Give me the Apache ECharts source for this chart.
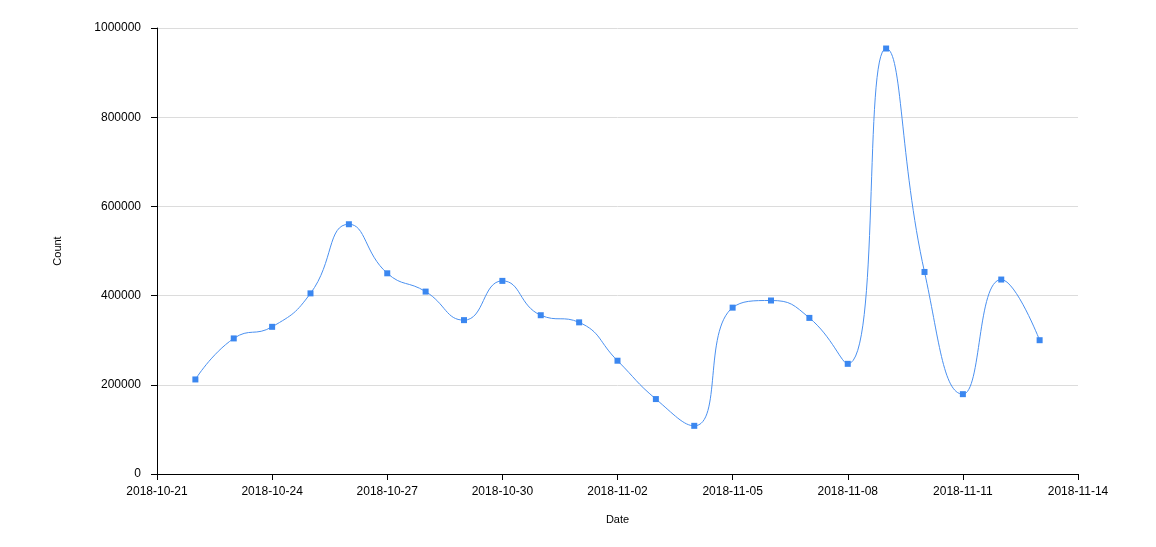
<!DOCTYPE html>
<html>
<head>
<meta charset="utf-8">
<script src="https://cdn.jsdelivr.net/npm/echarts@6/dist/echarts.min.js"></script>
<style>html,body{margin:0;padding:0;background:#fff}#c{width:1156px;height:547px}</style>
</head>
<body>
<div id="c"></div>
<script>
var dates = ['2018-10-22','2018-10-23','2018-10-24','2018-10-25','2018-10-26','2018-10-27','2018-10-28','2018-10-29','2018-10-30','2018-10-31','2018-11-01','2018-11-02','2018-11-03','2018-11-04','2018-11-05','2018-11-06','2018-11-07','2018-11-08','2018-11-09','2018-11-10','2018-11-11','2018-11-12','2018-11-13'];
var counts = [212000,304000,330000,405000,560000,450000,409000,345000,433000,356000,340000,254000,168000,108000,373000,389000,350000,247000,954000,453000,179000,436000,300000];
var xStart = '2018-10-21';
var xEnd = '2018-11-14';
var yTicks = [0,200000,400000,600000,800000,1000000];

var DAY = 86400000;
function toDay(s){ return Math.round((Date.parse(s+'T00:00:00Z') - Date.parse(xStart+'T00:00:00Z'))/DAY); }
function fromDay(d){ return new Date(Date.parse(xStart+'T00:00:00Z') + d*DAY).toISOString().slice(0,10); }
var data = dates.map(function(d,i){ return [toDay(d), counts[i]]; });

var font = 'Arial, "Liberation Sans", sans-serif';
var chart = echarts.init(document.getElementById('c'));
chart.setOption({
  animation:false,
  grid:{left:157,right:78,top:28,bottom:73,containLabel:false},
  xAxis:{
    type:'value', min:0, max:toDay(xEnd), interval:3,
    name:'Date', nameLocation:'middle', nameGap:40,
    nameTextStyle:{color:'#000',fontSize:11,fontFamily:font},
    axisLine:{show:true,lineStyle:{color:'#000',width:1}},
    axisTick:{show:true,length:6,lineStyle:{color:'#000'}},
    axisLabel:{color:'#000',fontSize:12,fontFamily:font,margin:12,formatter:function(v){return fromDay(v);},showMinLabel:true,showMaxLabel:true},
    splitLine:{show:false}
  },
  yAxis:{
    type:'value', min:yTicks[0], max:yTicks[yTicks.length-1], interval:200000,
    name:'Count', nameLocation:'middle', nameGap:94, nameRotate:90,
    nameTextStyle:{color:'#000',fontSize:11,fontFamily:font},
    axisLine:{show:true,lineStyle:{color:'#000',width:1}},
    axisTick:{show:true,length:6,lineStyle:{color:'#000'}},
    axisLabel:{color:'#000',fontSize:12,fontFamily:font,margin:16,formatter:function(v){return String(v);}},
    splitLine:{show:true,lineStyle:{color:'#dcdcdc',width:1}}
  },
  series:[{
    type:'line', data:data, smooth:0.5,
    symbol:'rect', symbolSize:6,
    lineStyle:{color:'#4a90f0',width:1},
    itemStyle:{color:'#3b87f0'}
  }]
});
</script>
</body>
</html>
